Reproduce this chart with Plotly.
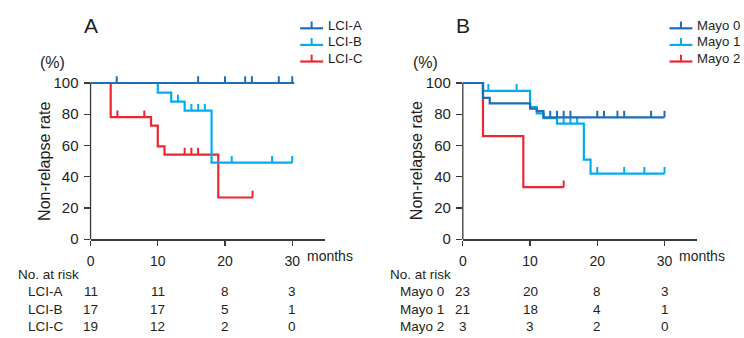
import plotly.graph_objects as go

W, H = 744, 338
FONT = "Liberation Sans, Arial, Helvetica, sans-serif"
TXT = "#231f20"
AX = "#3a3a3a"

# ---------------- data ----------------
months_ticks = [0, 10, 20, 30]

# Panel A (LCI)
lci_names = ["LCI-A", "LCI-B", "LCI-C"]
lciA_times = [0]
lciA_surv = [100]
lciA_end = 30.3
lciA_cens = [3.9, 16, 20, 23, 24, 28, 30]

lciB_times = [0, 10, 12, 14, 18]
lciB_surv = [100, 93.8, 88.1, 82.3, 49.0]
lciB_end = 30
lciB_cens = [13, 15, 16, 17, 21, 27, 30]

lciC_times = [0, 3, 9, 10, 11, 19]
lciC_surv = [100, 78.1, 72.7, 59.4, 54.2, 26.7]
lciC_end = 24.1
lciC_cens = [4, 8, 14, 15, 16, 24.1]

lci_risk = [[11, 11, 8, 3], [17, 17, 5, 1], [19, 12, 2, 0]]

# Panel B (Mayo)
mayo_names = ["Mayo 0", "Mayo 1", "Mayo 2"]
mayo0_times = [0, 3, 4, 10, 11, 12]
mayo0_surv = [100, 90.5, 87.0, 83.5, 82.0, 78.0]
mayo0_end = 30
mayo0_cens = [13, 14, 15, 16, 20, 21, 23, 24, 28, 30]

mayo1_times = [0, 3, 10, 11, 12, 14, 18, 19]
mayo1_surv = [100, 95.0, 84.5, 80.5, 77.5, 74.0, 51.0, 42.0]
mayo1_end = 30
mayo1_cens = [3.8, 8, 15, 16, 17, 20, 24, 27, 30]

mayo2_times = [0, 3, 9]
mayo2_surv = [100, 66.0, 33.3]
mayo2_end = 15
mayo2_cens = [15]

mayo_risk = [[23, 20, 8, 3], [21, 18, 4, 1], [3, 3, 2, 0]]

colors = ["#1f6db4", "#00aeef", "#ec2730"]

# ---------------- helpers ----------------
def px(x):
    return x / W

def py(y):
    return 1 - y / H

def surv_at(times, surv, t):
    v = surv[0]
    for ti, si in zip(times, surv):
        if ti <= t:
            v = si
    return v

TICK_H = 4.3  # censor tick height in % units

fig = go.Figure()

panels = [
    dict(xa="x", ya="y", names=lci_names, risk=lci_risk,
         series=[(lciA_times, lciA_surv, lciA_end, lciA_cens),
                 (lciB_times, lciB_surv, lciB_end, lciB_cens),
                 (lciC_times, lciC_surv, lciC_end, lciC_cens)],
         x0=87.0, letter="A", leg_shift=0.0),
    dict(xa="x2", ya="y2", names=mayo_names, risk=mayo_risk,
         series=[(mayo0_times, mayo0_surv, mayo0_end, mayo0_cens),
                 (mayo1_times, mayo1_surv, mayo1_end, mayo1_cens),
                 (mayo2_times, mayo2_surv, mayo2_end, mayo2_cens)],
         x0=461.3, letter="B", leg_shift=-3.0),
]

XMAX = 34.8
PX_PER_MONTH = 6.76
Y0, Y100 = 245.0, 85.0
PX_PER_PCT = (Y0 - Y100) / 100
YMAX = 106
ytop = Y0 - YMAX * PX_PER_PCT

annotations = []
shapes = []

for p in panels:
    # draw in reverse so the first series ends up on top
    for idx in reversed(range(3)):
        times, surv, end, cens = p["series"][idx]
        xs = list(times) + [end]
        ys = list(surv) + [surv[-1]]
        fig.add_trace(go.Scatter(x=xs, y=ys, mode="lines", line_shape="hv",
                                 line=dict(color=colors[idx], width=2.2),
                                 xaxis=p["xa"], yaxis=p["ya"], hoverinfo="skip"))
        cx, cy = [], []
        for c in cens:
            v = surv_at(times, surv, c)
            cx += [c, c, None]
            cy += [v, v + TICK_H, None]
        fig.add_trace(go.Scatter(x=cx, y=cy, mode="lines",
                                 line=dict(color=colors[idx], width=2),
                                 xaxis=p["xa"], yaxis=p["ya"], hoverinfo="skip"))

    x0 = p["x0"]
    xref = p["xa"]
    # y axis line (0..100 only)
    shapes.append(dict(type="line", xref="paper", yref="paper",
                       x0=px(x0), x1=px(x0), y0=py(Y0), y1=py(Y100),
                       line=dict(color=AX, width=1.3)))
    # panel letter
    annotations.append(dict(text=p["letter"], x=px(x0), y=py(26), xref="paper", yref="paper",
                            showarrow=False, font=dict(size=21, color=TXT, family=FONT),
                            xanchor="center", yanchor="middle"))
    # (%)
    annotations.append(dict(text="(%)", x=px(x0 - 38), y=py(64), xref="paper", yref="paper",
                            showarrow=False, font=dict(size=16, color=TXT, family=FONT),
                            xanchor="center", yanchor="middle"))
    # y title
    annotations.append(dict(text="Non-relapse rate", x=px(x0 - 47), y=py(165), xref="paper",
                            yref="paper", showarrow=False, textangle=-90,
                            font=dict(size=16, color=TXT, family=FONT),
                            xanchor="center", yanchor="middle"))
    # months
    annotations.append(dict(text="months", x=px(x0 + 30 * PX_PER_MONTH + 13), y=py(262),
                            xref="paper", yref="paper", showarrow=False,
                            font=dict(size=14, color=TXT, family=FONT),
                            xanchor="left", yanchor="middle"))
    # No. at risk table
    annotations.append(dict(text="No. at risk", x=px(x0 - 75), y=py(281), xref="paper",
                            yref="paper", showarrow=False,
                            font=dict(size=13.5, color=TXT, family=FONT),
                            xanchor="left", yanchor="middle"))
    row_y = [299, 316.5, 334]
    for i, name in enumerate(p["names"]):
        annotations.append(dict(text=name, x=px(x0 - 65), y=py(row_y[i]), xref="paper",
                                yref="paper", showarrow=False,
                                font=dict(size=13.5, color=TXT, family=FONT),
                                xanchor="left", yanchor="middle"))
        for m, n in zip(months_ticks, p["risk"][i]):
            annotations.append(dict(text=str(n), x=m, y=py(row_y[i]), xref=xref,
                                    yref="paper", showarrow=False,
                                    font=dict(size=13.5, color=TXT, family=FONT),
                                    xanchor="center", yanchor="middle"))
    # legend (line with upward censor tick)
    lx = x0 + 30 * PX_PER_MONTH + 8 + p["leg_shift"]
    leg_y = [26, 43, 60]
    for i, name in enumerate(p["names"]):
        shapes.append(dict(type="line", xref="paper", yref="paper",
                           x0=px(lx), x1=px(lx + 23), y0=py(leg_y[i] + 3), y1=py(leg_y[i] + 3),
                           line=dict(color=colors[i], width=2.2)))
        shapes.append(dict(type="line", xref="paper", yref="paper",
                           x0=px(lx + 11.5), x1=px(lx + 11.5), y0=py(leg_y[i] + 3),
                           y1=py(leg_y[i] - 4), line=dict(color=colors[i], width=2)))
        annotations.append(dict(text=name, x=px(lx + 26), y=py(leg_y[i]), xref="paper",
                                yref="paper", showarrow=False,
                                font=dict(size=13.2, color=TXT, family=FONT),
                                xanchor="left", yanchor="middle"))

def xaxis_cfg(x0):
    return dict(domain=[px(x0), px(x0 + XMAX * PX_PER_MONTH)], range=[0, XMAX],
                tickvals=months_ticks, ticks="outside", ticklen=5, tickwidth=1.3,
                tickcolor=AX, showline=True, linecolor=AX, linewidth=1.3,
                showgrid=False, zeroline=False, ticklabelstandoff=4,
                tickfont=dict(size=14, color=TXT, family=FONT), fixedrange=True)

def yaxis_cfg():
    return dict(domain=[py(Y0), py(ytop)], range=[0, YMAX],
                tickvals=[0, 20, 40, 60, 80, 100], ticks="outside", ticklen=6, tickwidth=1.3,
                tickcolor=AX, showline=False, showgrid=False, zeroline=False,
                ticklabelstandoff=2,
                tickfont=dict(size=15, color=TXT, family=FONT), fixedrange=True)

xa1 = xaxis_cfg(panels[0]["x0"]); xa1["anchor"] = "y"
xa2 = xaxis_cfg(panels[1]["x0"]); xa2["anchor"] = "y2"
ya1 = yaxis_cfg(); ya1["anchor"] = "x"
ya2 = yaxis_cfg(); ya2["anchor"] = "x2"

fig.update_layout(width=W, height=H, margin=dict(l=0, r=0, t=0, b=0),
                  paper_bgcolor="white", plot_bgcolor="white", showlegend=False,
                  xaxis=xa1, yaxis=ya1, xaxis2=xa2, yaxis2=ya2,
                  annotations=annotations, shapes=shapes,
                  font=dict(family=FONT, color=TXT))

fig.write_html("out.html", config={"displayModeBar": False, "staticPlot": True},
               post_script="document.body.style.margin='0px';"
                           "document.body.style.overflow='hidden';")
